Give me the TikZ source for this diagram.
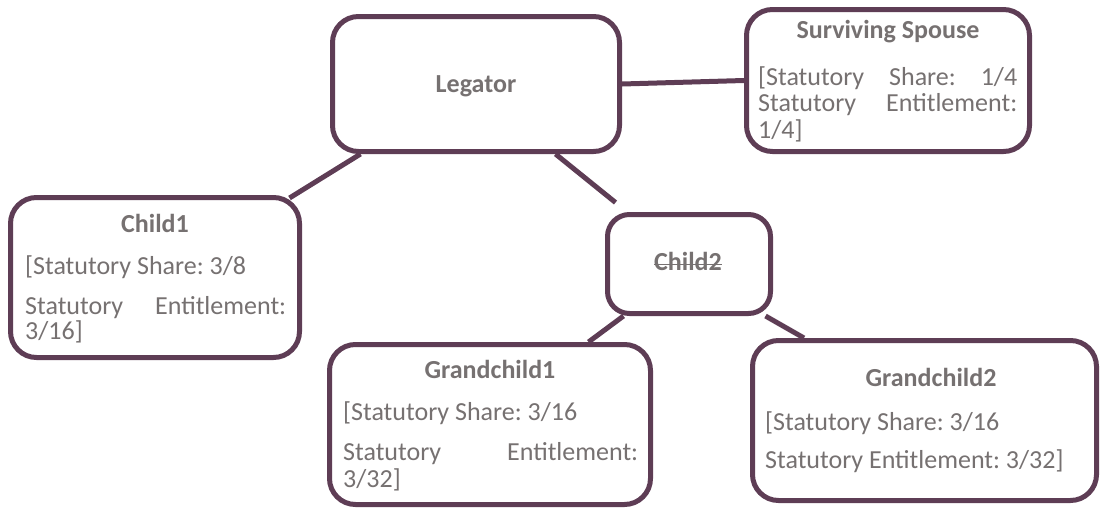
\documentclass[tikz,border=0pt]{standalone}
\usepackage{fontspec}
\setmainfont{Carlito}
\usetikzlibrary{calc}
\definecolor{plum}{RGB}{94,61,85}
\definecolor{txt}{RGB}{118,113,113}
\tikzset{
  box/.style={draw=plum, line width=5pt, rounded corners=26pt, inner sep=0pt, fill=white},
  link/.style={draw=plum, line width=5pt},
  strike/.style={draw=txt, line width=1.8pt},
  head/.style={anchor=base, inner sep=0pt, text=txt, font=\fontsize{26}{30}\selectfont\bfseries},
  body/.style={anchor=base west, inner sep=0pt, text=txt},
}
\newcommand{\bodytext}[3]{\parbox[t]{#1}{\frenchspacing\fontsize{26}{#2}\selectfont #3}}
\newcommand{\spreadline}[1]{\makebox[\linewidth][s]{#1}}
\begin{document}
\frenchspacing
\begin{tikzpicture}[x=1pt,y=-1pt]
\useasboundingbox (0,0) rectangle (1100,509);
% boxes
\node[box, minimum width=287pt, minimum height=135pt] (leg) at (476,84) {};
\node[box, minimum width=283pt, minimum height=142pt] (sp) at (888,80.5) {};
\node[box, minimum width=289pt, minimum height=160pt] (c1) at (155,277.5) {};
\node[box, rounded corners=22pt, minimum width=163pt, minimum height=99pt] (c2) at (689,264) {};
\node[box, minimum width=321pt, minimum height=160pt] (g1) at (490,424.5) {};
\node[box, minimum width=344pt, minimum height=160pt] (g2) at (924.5,420.5) {};
% connectors
\draw[link] (leg.east) -- (sp.west);
\draw[link] ($(leg.south west)+(30.5,0)$) -- ($(c1.north east)+(-12.5,3)$);
\draw[link] ($(leg.south west)+(225.5,0)$) -- ($(c2.north west)+(10.5,-9.5)$);
\draw[link] ($(c2.south west)+(18.5,0)$) -- ($(g1.north east)+(-64.5,0)$);
\draw[link] ($(c2.south east)+(-7.5,0)$) -- ($(g2.north west)+(54,0)$);
% texts
\node[head] (legh) at (476,92) {Legator};
\node[head] (sph) at (888,38) {Surviving Spouse};
\node[body] (spt) at (758,85) {\bodytext{259pt}{26.5pt}{\spreadline{[Statutory Share: 1/4}\\\spreadline{Statutory Entitlement:}\\1/4]}};
\node[head] (c1h) at (155,232) {Child1};
\node[body] (c1t) at (25,274) {\bodytext{261pt}{25pt}{[Statutory Share: 3/8\\[15pt]\spreadline{Statutory Entitlement:}\\3/16]}};
\node[head] (c2h) at (688,270) {Child2};
\draw[strike] ($(c2h.base west)+(0,-5.5)$) -- ($(c2h.base east)+(0,-5.5)$);
\node[head] (g1h) at (490,378) {Grandchild1};
\node[body] (g1t) at (343,420) {\bodytext{295pt}{27pt}{[Statutory Share: 3/16\\[13pt]\spreadline{Statutory Entitlement:}\\3/32]}};
\node[head] (g2h) at (931,386) {Grandchild2};
\node[body] (g2t) at (765,430) {\bodytext{320pt}{38pt}{[Statutory Share: 3/16\\Statutory Entitlement: 3/32]}};
\end{tikzpicture}
\end{document}
